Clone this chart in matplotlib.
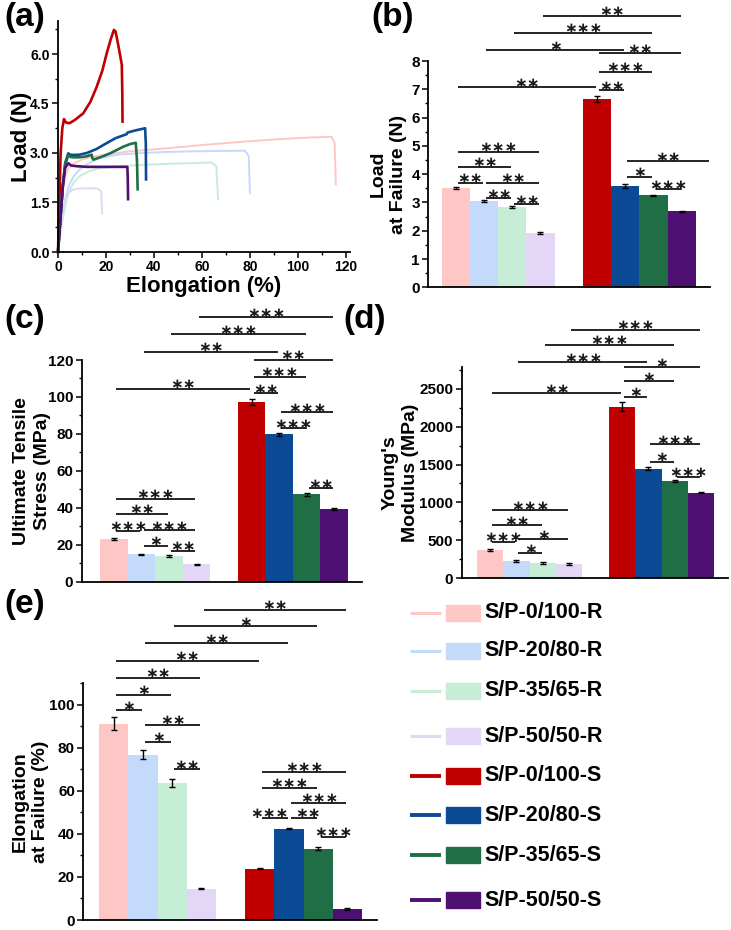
import numpy as np
import matplotlib
matplotlib.use("Agg")
import matplotlib.pyplot as plt
from matplotlib.ticker import MultipleLocator, FormatStrFormatter
from matplotlib.patches import Rectangle

plt.rcParams['font.family'] = ['Liberation Sans', 'DejaVu Sans']
plt.rcParams['font.weight'] = 'bold'
plt.rcParams['axes.labelweight'] = 'bold'

# ---- data ----
samples = ['S/P-0/100-R', 'S/P-20/80-R', 'S/P-35/65-R', 'S/P-50/50-R',
           'S/P-0/100-S', 'S/P-20/80-S', 'S/P-35/65-S', 'S/P-50/50-S']
colors = ['#FFC6C6', '#C4DAFA', '#C6EED6', '#E4D6F6',
          '#C00000', '#0B4A95', '#1F6E45', '#4F1074']
positions = [0, 1, 2, 3, 5, 6, 7, 8]

# (a) load-elongation curves (elongation %, load N)
curve_x = [
    [0, 1.0, 2.0, 3.0, 4.5, 6.5, 10, 15, 20, 30, 45, 60, 75, 90, 105, 114, 115.3, 115.8],
    [0, 1.5, 3.0, 4.5, 6.4, 9, 13, 17.5, 25, 35, 45, 55, 65, 78, 79.5, 80],
    [0, 1.5, 3, 4.5, 6.5, 9, 13, 17.5, 25, 35, 45, 55, 64, 66, 66.7],
    [0, 1, 2, 3, 4.5, 6, 8, 12, 16, 18.0, 18.4],
    [0, 0.5, 1.1, 1.8, 2.5, 3.2, 4.7, 7.0, 10.5, 13.5, 16.1, 18.5, 20.3, 22.0, 23.3, 24.0, 25.3, 26.6, 26.8, 26.9],
    [0, 1.0, 2.0, 3.0, 4.3, 5.0, 6.4, 9, 12, 16, 20.3, 24, 28.6, 29.0, 32, 36.3, 36.6, 36.7],
    [0, 1.0, 2.0, 3.0, 4.3, 5.2, 6.4, 9, 12, 14.0, 14.3, 14.7, 18, 22, 27.2, 30, 32.4, 32.9, 33.2],
    [0, 1.0, 2.0, 3.0, 4.3, 5.5, 7.8, 12, 18, 24, 28.9, 29.1, 29.2],
]
curve_y = [
    [0, 0.9, 1.8, 2.3, 2.55, 2.68, 2.8, 2.9, 2.95, 3.05, 3.14, 3.24, 3.33, 3.41, 3.47, 3.49, 3.3, 2.05],
    [0, 0.9, 1.6, 2.0, 2.28, 2.5, 2.7, 2.85, 2.95, 3.0, 3.03, 3.05, 3.06, 3.07, 2.9, 1.78],
    [0, 0.8, 1.4, 1.8, 2.1, 2.3, 2.45, 2.54, 2.6, 2.64, 2.67, 2.69, 2.71, 2.6, 1.6],
    [0, 0.7, 1.25, 1.6, 1.8, 1.88, 1.92, 1.93, 1.93, 1.85, 1.17],
    [0, 1.3, 3.0, 3.75, 4.03, 3.93, 3.9, 4.0, 4.2, 4.55, 5.0, 5.5, 6.02, 6.45, 6.73, 6.68, 6.2, 5.67, 4.8, 3.95],
    [0, 1.0, 2.0, 2.7, 2.99, 2.95, 2.94, 2.95, 3.0, 3.12, 3.3, 3.45, 3.57, 3.62, 3.68, 3.75, 3.3, 2.2],
    [0, 1.0, 2.0, 2.65, 2.94, 2.88, 2.87, 2.87, 2.9, 2.95, 2.85, 2.8, 2.88, 3.0, 3.19, 3.27, 3.31, 2.8, 1.9],
    [0, 1.0, 2.0, 2.55, 2.69, 2.62, 2.6, 2.58, 2.58, 2.58, 2.58, 2.2, 1.6],
]

load_mean = [3.50, 3.05, 2.85, 1.92, 6.65, 3.58, 3.26, 2.68]
load_err = [0.04, 0.03, 0.03, 0.05, 0.10, 0.06, 0.02, 0.02]
uts_mean = [23.0, 14.8, 13.9, 9.4, 97.5, 79.8, 47.3, 39.3]
uts_err = [0.5, 0.3, 0.4, 0.3, 1.6, 0.8, 0.9, 0.4]
mod_mean = [375, 228, 206, 188, 2260, 1447, 1280, 1131]
mod_err = [10, 10, 12, 12, 60, 15, 10, 5]
elong_mean = [91.2, 76.8, 63.7, 14.5, 23.8, 42.5, 33.2, 5.1]
elong_err = [3.0, 2.0, 1.8, 0.3, 0.3, 0.3, 0.6, 0.3]

# significance bars: (start position, end position, height, number of stars)
sig_b = [(0, 3, 4.79, 3), (0, 2, 4.26, 2), (0, 1, 3.70, 2), (1, 3, 3.70, 2),
         (1, 2, 3.14, 2), (2, 3, 2.94, 2),
         (6, 9.0, 4.46, 2), (6, 7, 3.91, 1), (7, 8, 3.46, 3),
         (5, 6, 6.97, 2), (5, 7, 7.62, 3), (5, 8, 8.27, 2),
         (0, 5, 7.07, 2), (1, 6, 8.38, 1), (2, 7, 9.00, 3), (3, 8, 9.60, 2)]
sig_c = [(0, 3, 44.8, 3), (0, 2, 36.6, 2), (0, 1, 27.6, 3), (1, 3, 27.9, 3),
         (1, 2, 19.5, 1), (2, 3, 16.8, 2),
         (6, 8, 91.7, 3), (6, 7, 83.0, 3), (7, 8, 50.5, 2),
         (5, 6, 102.0, 2), (5, 7, 111.0, 3), (5, 8, 120.0, 2),
         (0, 5, 104.3, 2), (1, 6, 124.5, 2), (2, 7, 133.9, 3), (3, 8, 143.1, 3)]
sig_d = [(0, 3, 899, 3), (0, 2, 701, 2), (0, 1, 482, 3), (1, 3, 517, 1),
         (1, 2, 329, 1),
         (6, 8, 1767, 3), (6, 7, 1535, 1), (7, 8, 1337, 3),
         (5, 6, 2390, 1), (5, 7, 2596, 1), (5, 8, 2784, 1),
         (0, 5, 2442, 2), (1, 6, 2850, 3), (2, 7, 3079, 3), (3, 8, 3280, 3)]
sig_e = [(0, 1, 97.4, 1), (0, 2, 104.6, 1), (0, 3, 112.5, 2), (0, 5, 120.4, 2),
         (1, 6, 128.6, 2), (2, 7, 136.4, 1), (3, 8, 144.2, 2),
         (1, 3, 90.7, 2), (1, 2, 82.7, 1), (2, 3, 70.0, 2),
         (5, 8, 68.8, 3), (5, 7, 61.5, 3), (6, 8, 54.6, 3), (5, 6, 47.4, 3),
         (6, 7, 47.4, 2), (7, 8, 38.6, 3)]
# small sideways nudges (points) for star labels that sit side by side
star_shift = {('e', 5, 6): -4, ('e', 6, 7): 3}

W, H = 731, 930
fig = plt.figure(figsize=(W / 100, H / 100), dpi=100)


def px_axes(left, top, right, bottom):
    return fig.add_axes([left / W, 1 - bottom / H, (right - left) / W, (bottom - top) / H])


def style(ax, ysize=11):
    for s in ['top', 'right']:
        ax.spines[s].set_visible(False)
    for s in ['left', 'bottom']:
        ax.spines[s].set_linewidth(1.3)
    ax.tick_params(axis='y', which='major', direction='out', length=4, width=1.1, labelsize=ysize, pad=2)
    ax.tick_params(axis='y', which='minor', direction='out', length=2.5, width=1)


def bar_panel(ax, key, mean, err, sig, ylim, major, minor, xlim, ylabel, pad):
    ax.bar(positions, mean, width=1.0, color=colors, edgecolor='none')
    ax.errorbar(positions, mean, yerr=err, fmt='none', ecolor='black',
                elinewidth=1, capsize=2.2, capthick=1)
    ax.set_xlim(*xlim)
    ax.set_ylim(*ylim)
    ax.set_xticks([])
    ax.yaxis.set_major_locator(MultipleLocator(major))
    ax.yaxis.set_minor_locator(MultipleLocator(minor))
    style(ax)
    ax.set_ylabel(ylabel, fontsize=14, linespacing=1.3, labelpad=pad)
    for a, b, y, n in sig:
        x0, x1 = a + 0.08, b - 0.04
        ax.plot([x0, x1], [y, y], color='black', lw=1.2, clip_on=False,
                solid_capstyle='butt')
        dx = star_shift.get((key, a, b), 0)
        ax.annotate('\u2217' * n, ((x0 + x1) / 2, y), xytext=(dx, -0.3),
                    textcoords='offset points', ha='center', va='baseline',
                    fontsize=11, family='DejaVu Sans', fontweight='bold',
                    color='#1a1a1a', annotation_clip=False)


# (a)
ax_a = px_axes(58, 21, 350, 252)
for xs, ys, c, k in zip(curve_x, curve_y, colors, range(8)):
    ax_a.plot(xs, ys, color=c, lw=1.4 if k < 4 else 1.9, clip_on=False)
ax_a.set_xlim(0, 121.7)
ax_a.set_ylim(0, 7.0)
ax_a.xaxis.set_major_locator(MultipleLocator(20))
ax_a.xaxis.set_minor_locator(MultipleLocator(10))
ax_a.yaxis.set_major_locator(MultipleLocator(1.5))
ax_a.yaxis.set_minor_locator(MultipleLocator(0.75))
ax_a.yaxis.set_major_formatter(FormatStrFormatter('%.1f'))
style(ax_a, 10)
ax_a.tick_params(axis='x', which='major', direction='out', length=4, width=1.1, labelsize=10, pad=2)
ax_a.tick_params(axis='x', which='minor', direction='out', length=2.5, width=1)
ax_a.set_xlabel('Elongation (%)', fontsize=16, labelpad=1)
ax_a.set_ylabel('Load (N)', fontsize=16, labelpad=-1)

# (b) - (e)
ax_b = px_axes(428.3, 61, 710, 287.3)
bar_panel(ax_b, 'b', load_mean, load_err, sig_b, (0, 8), 1, 0.5, (-0.97, 9.0),
          'Load\nat Failure (N)', 3)
ax_c = px_axes(81.7, 360, 361.7, 581.7)
bar_panel(ax_c, 'c', uts_mean, uts_err, sig_c, (0, 120), 20, 10, (-1.17, 9.0),
          'Ultimate Tensile\nStress (MPa)', -2)
ax_d = px_axes(461.7, 366.7, 728.3, 578.3)
bar_panel(ax_d, 'd', mod_mean, mod_err, sig_d, (0, 2790), 500, 250, (-1.07, 9.03),
          "Young's\nModulus (MPa)", 0)
ax_e = px_axes(83.3, 683.3, 376.7, 920)
bar_panel(ax_e, 'e', elong_mean, elong_err, sig_e, (0, 110), 20, 10, (-1.04, 9.0),
          'Elongation\nat Failure (%)', 0)

# panel letters
for lab, x, y in [('(a)', 4, 2), ('(b)', 371, 2), ('(c)', 4, 304), ('(d)', 343, 304), ('(e)', 4, 589)]:
    fig.text(x / W, 1 - y / H, lab, fontsize=24, ha='left', va='top')

# legend
leg = px_axes(400, 600, 731, 930)
leg.set_xlim(400, 731)
leg.set_ylim(930, 600)
leg.axis('off')
leg_y = [612.7, 651, 690.7, 736, 775.7, 815, 855, 900]
for k, (name, c, yc) in enumerate(zip(samples, colors, leg_y)):
    leg.plot([410, 441], [yc, yc], color=c, lw=2.2 if k < 4 else 2.8, solid_capstyle='butt')
    leg.add_patch(Rectangle((446, yc - 8), 34, 16, color=c))
    leg.text(484, yc, name, fontsize=15.5, ha='left', va='center')

fig.savefig('out.png', dpi=100)
